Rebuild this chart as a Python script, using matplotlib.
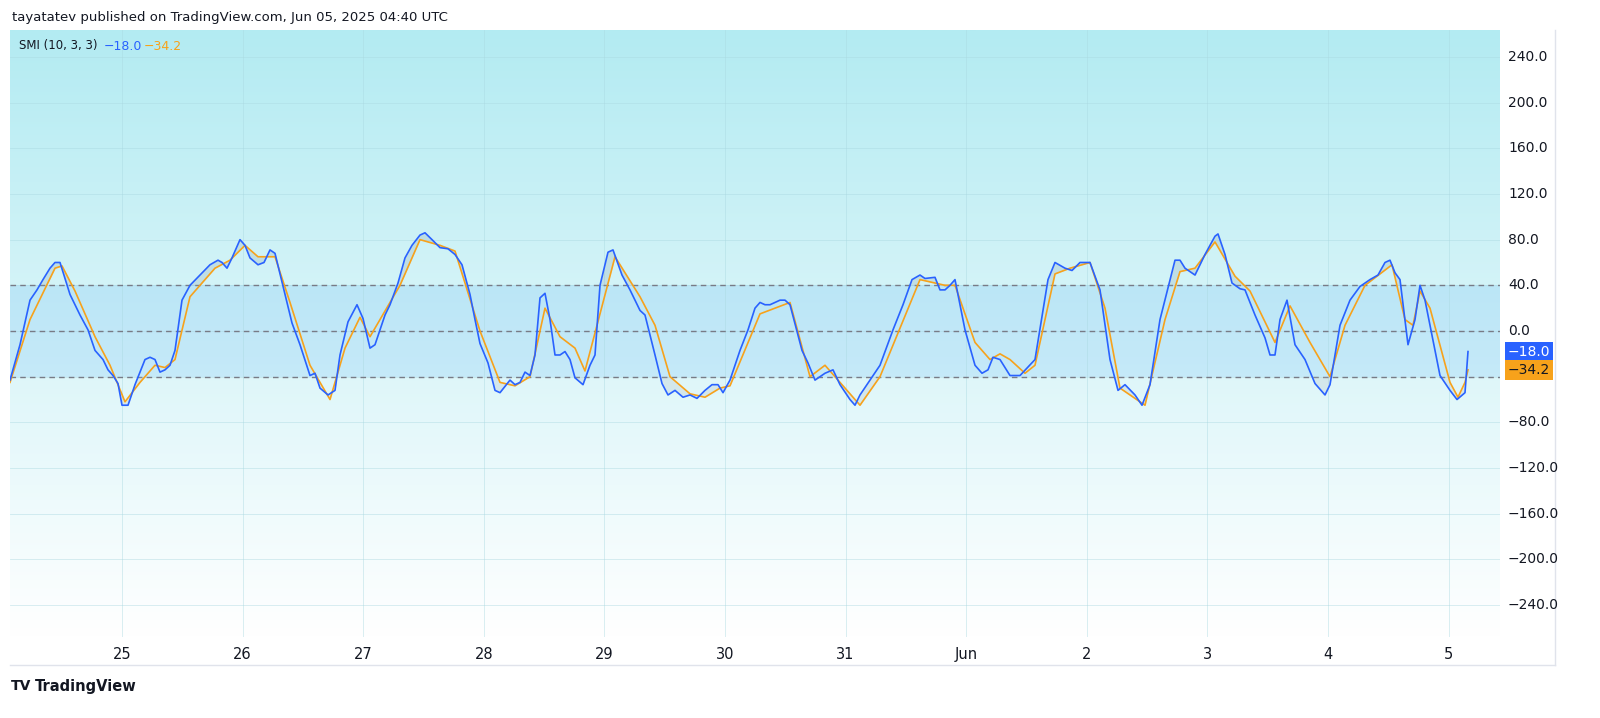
import numpy as np
import matplotlib
matplotlib.use("Agg")
import matplotlib.pyplot as plt
from matplotlib.colors import LinearSegmentedColormap

# (bar index of hourly bars, value) readings
smi_pts = [(2,-43),(4,-12),(6,27),(7.4,36),(8.6,45),(10,55),(11,60),(12,60),(13,46),(14,32),(16,14),(17.6,1),
 (19,-17),(20.6,-25),(21.6,-34),(22.6,-39),(23.6,-46),(24.4,-65),(25.6,-65),(27,-47),(29,-25),(30,-23),(31,-25),
 (32,-36),(33,-34),(34,-30),(35,-17),(36.4,27),(38,40),(40,49),(42,58),(43.6,62),(44.4,60),(45.4,55),(46.4,64),
 (48,80),(49,75),(50,64),(51.6,58),(52.8,60),(54,71),(55,68),(57,32),(58.4,7),(60,-12),(62,-39),(63,-37),(64,-50),
 (65.6,-56),(67,-52),(68,-21),(69.6,8),(71.4,23),(72.6,11),(74,-15),(75,-12),(77,14),(78,23),(79.6,42),(81,64),
 (82.4,75),(84,84),(85,86),(86.4,80),(88,73),(89.6,72),(91,67),(92.4,58),(94,32),(95,10),(96,-11),(97.6,-28),
 (99,-52),(100,-54),(102,-43),(103,-47),(104,-45),(105,-36),(106,-39),(107,-21),(108,29),(109,33),(110,10),
 (111,-21),(112,-21),(113,-18),(114,-25),(115,-41),(116.6,-47),(118,-30),(119,-21),(120,40),(121.6,69),(122.6,71),
 (124.4,49),(126,36),(128,18),(129,14),(131,-21),(132.4,-46),(133.6,-56),(135,-52),(136.6,-58),(138,-56),(139.4,-59),
 (141,-52),(142.4,-47),(143.6,-47),(144.6,-54),(146,-43),(148,-17),(149.6,1),(151,20),(152,25),(153,23),(154,23),
 (156,27),(157,27),(158,23),(160.4,-17),(161.6,-28),(163,-43),(165,-37),(166.6,-34),(168,-47),(170,-60),(171,-65),
 (172,-56),(174,-43),(176,-30),(178.6,1),(180.6,23),(182.4,45),(184,49),(185,46),(187,47),(188,36),(189,36),
 (190,40),(191,45),(193,1),(195,-30),(196.4,-37),(197.6,-34),(198.6,-23),(200,-25),(202,-39),(204,-39),(207,-25),
 (209.6,45),(211,60),(213,55),(214.4,53),(216,60),(218,60),(220,36),(222,-25),(223.6,-52),(225,-47),(227,-56),
 (228.4,-65),(230,-47),(232,10),(235,62),(236,62),(237,55),(239,49),(241,67),(243,83),(243.6,85),(245,67),
 (246.4,42),(248,37),(249,36),(251,14),(253,-6),(254,-21),(255,-21),(256,10),(257.4,27),(259,-12),(261,-25),
 (263,-46),(265,-56),(266,-47),(268,5),(270,27),(272,39),(274,45),(275.6,49),(277,60),(278,62),(279,51),(280,45),
 (281.6,-12),(283,10),(284,40),(285,27),(288,-39),(290,-52),(291.4,-60),(293,-54),(293.6,-18)]
sig_pts = [(2,-45),(6,10),(11,55),(12.4,57),(15,35),(19,-5),(22,-30),(25,-62),(28,-45),(31,-30),(33,-32),(35,-25),
 (38,30),(43,55),(46,62),(49,75),(51.6,65),(55,65),(58,25),(62,-30),(66,-60),(69,-15),(72,12),(74,-5),(80,40),
 (84,80),(88,75),(91,70),(96,0),(100,-45),(103,-48),(106,-40),(109,20),(112,-5),(115,-15),(117,-35),(123,65),
 (128,30),(131,5),(134,-40),(138,-55),(141,-58),(144,-50),(146,-48),(152,15),(158,25),(162,-40),(165,-30),
 (168,-45),(172,-65),(176,-40),(184,45),(189,40),(191,40),(195,-10),(198,-25),(200,-20),(202,-25),(205,-37),
 (207,-30),(211,50),(214,55),(218,60),(221,20),(224,-50),(229,-65),(233,10),(236,52),(239,55),(243,78),(247,48),
 (250,35),(255,-10),(258,22),(262,-10),(266,-40),(269,5),(273,40),(278.4,58),(281,10),(282.6,5),(284,35),
 (286,20),(290,-45),(291.6,-58),(293,-45),(293.6,-34)]
day_labels = ["25","26","27","28","29","30","31","Jun","2","3","4","5"]
y_ticks = [240,200,160,120,80,40,0,-40,-80,-120,-160,-200,-240]

BPD = 24.12
day0 = 24.4  # bar index of 25 May 00:00
xs, ys = map(np.array, zip(*smi_pts))
xo, yo = map(np.array, zip(*sig_pts))

W, H = 1600, 718
top_px, bot_px = 30, 637
fig = plt.figure(figsize=(16, 7.18), dpi=100)
ax = fig.add_axes([10/W, (H-bot_px)/H, 1490/W, (bot_px-top_px)/H])
xmin, xmax = 2, 2 + 1490/5.0
k = 1.142  # px per unit
ymax = (331 - top_px)/k
ymin = -(bot_px - 331)/k
ax.set_xlim(xmin, xmax); ax.set_ylim(ymin, ymax)

cmap = LinearSegmentedColormap.from_list("bg", ["#ffffff", "#b3ebf2"])
grad = np.linspace(0, 1, 256).reshape(-1, 1)
ax.imshow(grad, cmap=cmap, aspect="auto", extent=[xmin, xmax, ymin, ymax], origin="lower", zorder=0)
ax.axhspan(-40, 40, color="#2196f3", alpha=0.13, lw=0, zorder=1)

tick_pos = [day0 + BPD*i for i in range(len(day_labels))]
for t in tick_pos:
    ax.axvline(t, color="#a9d8e0", lw=0.6, alpha=0.5, zorder=1)
for v in y_ticks:
    ax.axhline(v, color="#a9d8e0", lw=0.6, alpha=0.5, zorder=1)
for v in (40, 0, -40):
    ax.axhline(v, color="#787b86", lw=1, ls=(0, (4, 3)), zorder=2)

xx = np.linspace(xs[0], xs[-1], 3000)
b = np.interp(xx, xs, ys); o = np.interp(xx, xo, yo)
ax.fill_between(xx, np.maximum(b, 40), np.maximum(o, 40), color="#90a4ae", alpha=0.25, lw=0, zorder=2)
ax.fill_between(xx, np.minimum(b, -40), np.minimum(o, -40), color="#b0bec5", alpha=0.25, lw=0, zorder=2)

ax.plot(xo, yo, color="#f7a21b", lw=1.2, zorder=3)
ax.plot(xs, ys, color="#2962ff", lw=1.2, zorder=4)

ax.set_xticks(tick_pos)
ax.set_xticklabels(day_labels, fontsize=10.5, color="#131722")
ax.tick_params(axis="x", length=0, pad=7)
ax.set_yticks([])
for s in ax.spines.values():
    s.set_visible(False)

for v in y_ticks:
    if v == -40:
        continue  # hidden behind the price labels
    y = H - (331 - v*k)
    label = f"{v:.1f}".replace("-", "\u2212")
    fig.text(1508/W, y/H, label, fontsize=10, color="#131722", va="center", ha="left")
fig.add_artist(plt.Line2D([1555/W]*2, [53/H, 688/H], color="#e0e3eb", lw=1))
fig.add_artist(plt.Line2D([10/W, 1555/W], [(H-665)/H]*2, color="#e0e3eb", lw=1))

for v, c, txt in ((-18.0, "#2962ff", "\u221218.0"), (-34.2, "#f7a21b", "\u221234.2")):
    y = H - (331 - v*k)
    fig.text(1508/W, y/H, txt, fontsize=10, color="white" if c == "#2962ff" else "#131722",
             va="center", ha="left", bbox=dict(boxstyle="square,pad=0.2", fc=c, ec="none"))

fig.text(12/W, 1 - 17/H, "tayatatev published on TradingView.com, Jun 05, 2025 04:40 UTC", fontsize=9.5, color="#131722", va="center")
fig.text(19/W, 1 - 46/H, "SMI (10, 3, 3)", fontsize=8.5, color="#131722", va="center")
fig.text(104/W, 1 - 46/H, "\u221218.0", fontsize=9, color="#2962ff", va="center")
fig.text(144/W, 1 - 46/H, "\u221234.2", fontsize=9, color="#f7a21b", va="center")
fig.text(11/W, 1 - 686/H, "TV", fontsize=10, color="#131722", va="center", weight="heavy")
fig.text(35/W, 1 - 686/H, "TradingView", fontsize=10.5, color="#131722", va="center", weight="bold")

fig.savefig("out.png", dpi=100, facecolor="white")
